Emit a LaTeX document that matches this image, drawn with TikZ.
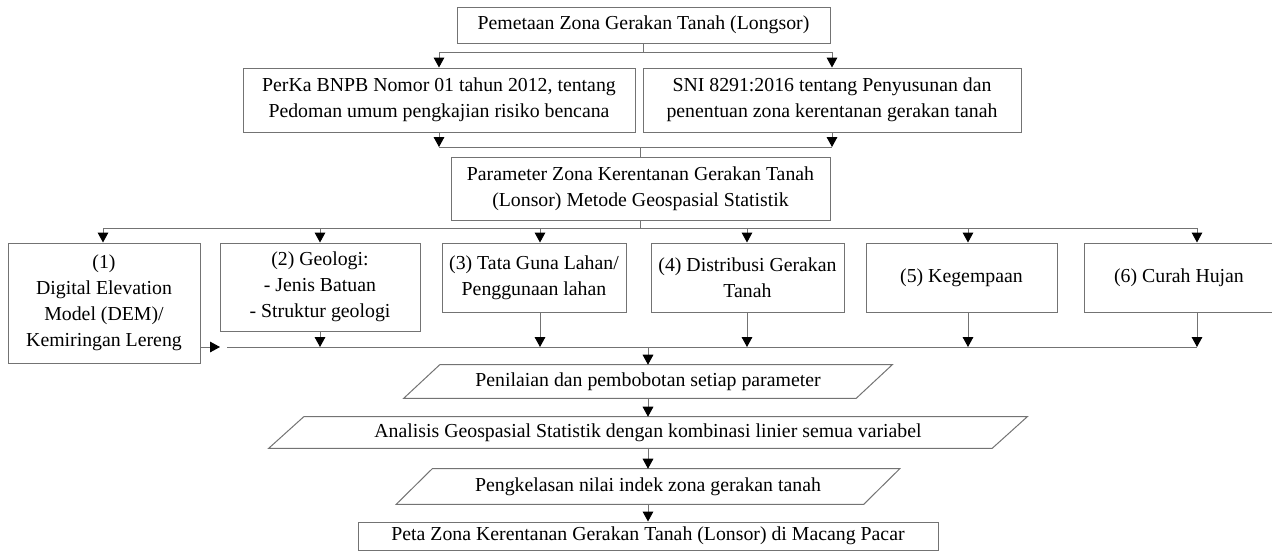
\documentclass[tikz,border=0pt]{standalone}
\usepackage{fontspec}
\setmainfont{Liberation Serif}
\usetikzlibrary{arrows.meta,calc}
\def\parabox#1#2{\draw[boxline] ($(#1.north west)+(#2,0)$) -- ($(#1.north east)+(#2,0)$) -- ($(#1.south east)-(#2,0)$) -- ($(#1.south west)-(#2,0)$) -- cycle;}

\begin{document}
\begin{tikzpicture}[x=0.75pt,y=-0.75pt,
	boxline/.style={draw=black!55,line width=0.75pt},
	txt/.style={inner sep=0pt,align=center,font=\fontsize{14.85}{19.5}\selectfont},
	stepbox/.style 2 args={txt,boxline,minimum width=#1*0.75pt,minimum height=#2*0.75pt},
	slantbox/.style 2 args={txt,minimum width=#1*0.75pt,minimum height=#2*0.75pt},
	conn/.style={draw=black!55,line width=0.75pt},
	flow/.style={conn,-{Triangle[width=8pt,length=7.5pt,color=black]}}]
				\useasboundingbox (0,0) rectangle (1272,551);
				
				\node[stepbox={373}{36}] (map) at (643.5,25) {Pemetaan Zona Gerakan Tanah (Longsor)};
				\node[stepbox={392}{64}] (perka) at (439,100) {PerKa BNPB Nomor 01 tahun 2012, tentang\\Pedoman umum pengkajian risiko bencana};
				\node[stepbox={378}{64}] (sni) at (832,100) {SNI 8291:2016 tentang Penyusunan dan\\penentuan zona kerentanan gerakan tanah};
				\node[stepbox={379}{63}] (param) at (640.5,188.5) {Parameter Zona Kerentanan Gerakan Tanah\\(Lonsor) Metode Geospasial Statistik};
				
				\node[stepbox={192}{120}] (dem) at (104,303) {(1)\\Digital Elevation\\Model (DEM)/\\Kemiringan Lereng};
				\node[stepbox={200}{88}] (geo) at (320,287) {(2) Geologi:\\- Jenis Batuan\\- Struktur geologi};
				\node[stepbox={184}{69}] (lahan) at (534,277.5) {(3) Tata Guna Lahan/\\Penggunaan lahan};
				\node[stepbox={193}{69}] (distr) at (747.5,277.5) {(4) Distribusi Gerakan\\Tanah};
				\node[stepbox={191}{69}] (gempa) at (961.5,277.5) {(5) Kegempaan};
				\node[stepbox={190}{69}] (hujan) at (1179,277.5) {(6) Curah Hujan};
				
				\node[slantbox={452}{33}] (nilai) at (648,381.5) {Penilaian dan pembobotan setiap parameter};
				\node[slantbox={723}{31}] (analisis) at (648,432.5) {Analisis Geospasial Statistik dengan kombinasi linier semua variabel};
				\node[slantbox={467}{35}] (kelas) at (648,486.5) {Pengkelasan nilai indek zona gerakan tanah};
				\node[stepbox={580}{28}] (peta) at (648,536) {Peta Zona Kerentanan Gerakan Tanah (Lonsor) di Macang Pacar};
				\parabox{nilai}{18}
				\parabox{analisis}{17.5}
				\parabox{kelas}{18}
				
				\coordinate (fork1) at (643.5,52);
				\draw[conn] (map.south) -- (fork1);
				\draw[flow] (fork1) -| (perka.north);
				\draw[flow] (fork1) -| (sni.north);
				
				\coordinate (join1) at (640.5,147);
				\draw[flow] (perka.south) -- (perka.south |- join1);
				\draw[flow] (sni.south) -- (sni.south |- join1);
				\draw[conn] (perka.south |- join1) -- (sni.south |- join1);
				\draw[conn] (join1) -- (param.north);
				
				\coordinate (fork2) at (640.5,228);
				\coordinate (busL) at (103,228);
				\coordinate (busR) at (1197,228);
				\draw[conn] (param.south) -- (fork2);
				\draw[conn] (busL) -- (busR);
				\foreach \nd/\x in {dem/103,geo/320,lahan/540,distr/747,gempa/968,hujan/1197}{
					\coordinate (t\nd) at (\x,228);
					\draw[flow] (t\nd) -- (t\nd |- \nd.north);
				}
				
				\coordinate (joinL) at (227,347);
				\coordinate (joinR) at (1197,347);
				\draw[conn] (joinL) -- (joinR);
				\foreach \nd/\x in {geo/320,lahan/540,distr/747,gempa/968,hujan/1197}{
					\coordinate (b\nd) at (\x,347);
					\draw[flow] (b\nd |- \nd.south) -- (b\nd);
				}
				\coordinate (demtip) at (220,347);
				\draw[flow] (dem.east |- demtip) -- (demtip);
				
				\draw[flow] (joinL -| nilai.north) -- (nilai.north);
				\draw[flow] (nilai.south) -- (analisis.north);
				\draw[flow] (analisis.south) -- (kelas.north);
				\draw[flow] (kelas.south) -- (peta.north);
			\end{tikzpicture}
\end{document}
